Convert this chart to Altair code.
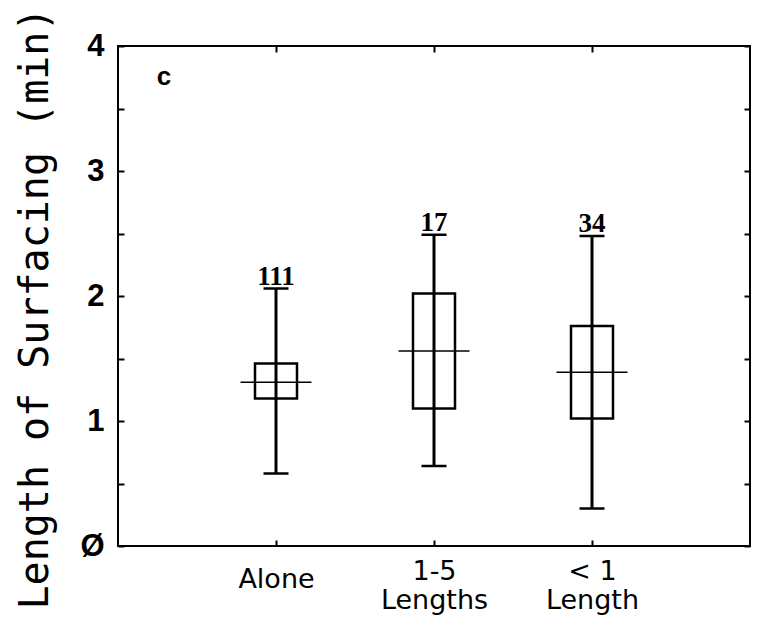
import altair as alt
import pandas as pd

# ---- data ----
categories = ["Alone", "1-5\nLengths", "< 1\nLength"]
n_obs = [111, 17, 34]
whisker_low = [0.58, 0.64, 0.30]
quart1 = [1.18, 1.10, 1.02]
medians = [1.31, 1.56, 1.39]
quart3 = [1.46, 2.02, 1.76]
whisker_high = [2.06, 2.49, 2.48]
y_tick_values = [0, 0.5, 1, 1.5, 2, 2.5, 3, 3.5, 4]
panel_label = ["c"]

df = pd.DataFrame({
    "group": categories,
    "n": n_obs,
    "low": whisker_low,
    "q1": quart1,
    "median": medians,
    "q3": quart3,
    "high": whisker_high,
})

x_scale = alt.Scale(type="point", padding=1, domain=categories)
y_scale = alt.Scale(domain=[0, 4], nice=False, zero=False)

x_bottom = alt.Axis(
    orient="bottom", offset=-6, tickSize=6, tickWidth=2, tickColor="black",
    domain=False, grid=False, title=None, labelAngle=0,
    labelExpr="split(datum.label, '\\n')",
    labelFont="DejaVu Sans", labelFontSize=27, labelColor="black",
    labelBaseline={"condition": {"test": "indexof(datum.label, '\\n') < 0", "value": "middle"},
                   "value": "alphabetic"},
    labelPadding=33, labelLineHeight=29,
    labelOverlap=False,
)
x_top = alt.Axis(
    orient="top", offset=-6, tickSize=6, tickWidth=2, tickColor="black",
    domain=False, grid=False, title=None, labels=False,
)
y_left = alt.Axis(
    orient="left", values=y_tick_values, offset=-6, tickSize=6, tickWidth=2,
    tickColor="black", domain=False, grid=False,
    labelExpr="datum.value == 0 ? 'Ø' : (datum.value % 1 == 0 ? format(datum.value, 'd') : '')",
    labelFont="Liberation Sans", labelFontSize=31, labelFontWeight="bold", labelColor="black",
    labelPadding=14, labelFlush=False, labelOverlap=False, labelBound=False,
    title="Length of Surfacing (min)", titleFont="DejaVu Sans Mono",
    titleFontSize=40, titleFontWeight="normal", titleColor="black",
    titleAngle=270, titleX=-89, titleY=262, titleAlign="center",
    titleBaseline="middle",
)
y_right = alt.Axis(
    orient="right", values=y_tick_values, offset=-6, tickSize=6, tickWidth=2,
    tickColor="black", domain=False, grid=False, labels=False, title=None,
)

base = alt.Chart(df)

box = base.mark_bar(size=42, fill="white", stroke="black", strokeWidth=2.5).encode(
    x=alt.X("group:N", scale=x_scale, axis=x_bottom, sort=categories),
    y=alt.Y("q1:Q", scale=y_scale, axis=y_left),
    y2="q3:Q",
)

frame_ticks = base.mark_point(opacity=0).encode(
    x=alt.X("group:N", scale=x_scale, axis=x_top, sort=categories),
    y=alt.Y("median:Q", scale=y_scale, axis=y_right),
)

whisker = base.mark_rule(strokeWidth=3, color="black").encode(
    x=alt.X("group:N", scale=x_scale, axis=None, sort=categories),
    y=alt.Y("low:Q", scale=y_scale, axis=None),
    y2="high:Q",
)

cap_low = base.mark_tick(orient="horizontal", size=25, thickness=2.5, color="black", opacity=1).encode(
    x=alt.X("group:N", scale=x_scale, axis=None, sort=categories),
    y=alt.Y("low:Q", scale=y_scale, axis=None),
)
cap_high = base.mark_tick(orient="horizontal", size=25, thickness=2.5, color="black", opacity=1).encode(
    x=alt.X("group:N", scale=x_scale, axis=None, sort=categories),
    y=alt.Y("high:Q", scale=y_scale, axis=None),
)
median_line = base.mark_tick(orient="horizontal", size=71, thickness=1.5, color="black", opacity=1).encode(
    x=alt.X("group:N", scale=x_scale, axis=None, sort=categories),
    y=alt.Y("median:Q", scale=y_scale, axis=None),
)

n_text = base.mark_text(
    baseline="alphabetic", dy=-4, font="Liberation Serif", fontSize=27,
    fontWeight="bold", color="black"
).encode(
    x=alt.X("group:N", scale=x_scale, axis=None, sort=categories),
    y=alt.Y("high:Q", scale=y_scale, axis=None),
    text="n:Q",
)

panel = alt.Chart(pd.DataFrame({"label": panel_label})).mark_text(
    font="Liberation Sans", fontWeight="bold", fontSize=26, color="black",
    align="center", baseline="alphabetic",
).encode(
    x=alt.value(46), y=alt.value(39), text="label:N",
)

chart = alt.layer(
    box, frame_ticks, whisker, cap_low, cap_high, median_line, n_text, panel
).resolve_axis(
    x="independent", y="independent"
).properties(
    width=632,
    height=500,
    autosize=alt.AutoSizeParams(type="none"),
    padding={"left": 118, "top": 46, "right": 7, "bottom": 80},
    background="white",
).configure_view(
    stroke="black", strokeWidth=2
)

chart.save("out.html", embed_options={"renderer": "svg", "actions": False})
